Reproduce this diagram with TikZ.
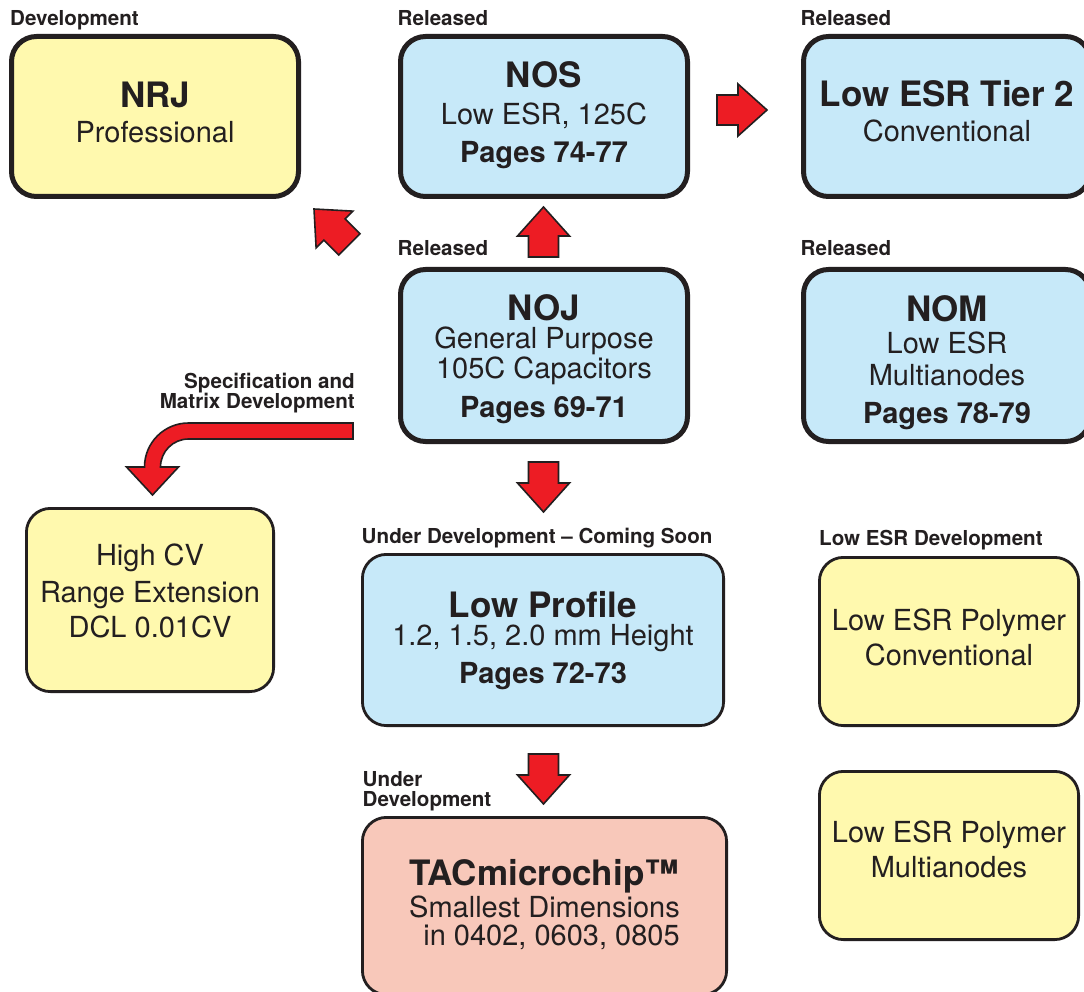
\documentclass[tikz,border=0pt]{standalone}
\usepackage{fontspec}
\setmainfont{TeX Gyre Heros}
\usetikzlibrary{calc,positioning}
\definecolor{ink}{RGB}{35,31,32}
\definecolor{relblue}{RGB}{199,233,249}
\definecolor{devyellow}{RGB}{255,249,174}
\definecolor{chippink}{RGB}{248,200,186}
\definecolor{arrred}{RGB}{237,28,36}
\newcommand{\boxtitle}[1]{{\fontsize{35}{34}\selectfont\bfseries #1}}
\newcommand{\boxpages}[1]{{\fontsize{29}{28}\selectfont\bfseries #1}}
\newcommand{\redarrow}[2]{%
  \begin{scope}[shift={(#1)},rotate=#2]
    \draw[blockarrow] (0,0) -- (-29,26) -- (-29,15) -- (-50,15) -- (-50,-15)
      -- (-29,-15) -- (-29,-26) -- cycle;
  \end{scope}}

\begin{document}
\begin{tikzpicture}[x=1pt,y=1pt,
    thickbox/.style={draw=ink,line width=5pt,rounded corners=25pt,align=center,
      inner sep=0pt,text depth=0pt,text=ink,font=\fontsize{29}{28}\selectfont,
      minimum width=287pt},
    thinbox/.style={draw=ink,line width=2.8pt,rounded corners=24pt,align=center,
      inner sep=0pt,text depth=0pt,text=ink,font=\fontsize{29}{28}\selectfont},
    lbl/.style={font=\fontsize{20.6}{20}\selectfont\bfseries,text=ink,inner sep=0pt,
      anchor=base west},
    blockarrow/.style={fill=arrred,draw=ink,line width=1.6pt,line join=miter}]

    \path[use as bounding box,fill=white] (0,0) rectangle (1084,-992);

    % released / development boxes, top rows
    \node[thickbox,fill=devyellow,minimum height=160pt,text height=53pt] (nrj) at (155,-116.5)
      {\boxtitle{NRJ}\\[7pt]Professional};
    \node[thickbox,fill=relblue,minimum height=160pt,text height=93pt] (nos) at (544,-116.5)
      {\boxtitle{NOS}\\[9pt]Low ESR, 125C\\[10pt]\boxpages{Pages 74-77}};
    \node[thickbox,fill=relblue,minimum height=160pt,text height=51pt] (tier) at (947,-116.5)
      {\boxtitle{Low ESR Tier 2}\\[7pt]Conventional};
    \node[thickbox,fill=relblue,minimum height=172pt,text height=123pt] (noj) at (544,-355.5)
      {\boxtitle{NOJ}\\General Purpose\\[2pt]105C Capacitors\\[11pt]\boxpages{Pages 69-71}};
    \node[thickbox,fill=relblue,minimum height=172pt,text height=135pt] (nom) at (947,-355.5)
      {\boxtitle{NOM}\\[4pt]Low ESR\\[4pt]Multianodes\\[10pt]\boxpages{Pages 78-79}};

    % lower boxes
    \node[thinbox,fill=devyellow,minimum width=247.2pt,minimum height=183.2pt,text height=74pt]
      (hcv) at (150,-600) {High CV\\[9pt]Range Extension\\[7pt]DCL 0.01CV};
    \node[thinbox,fill=relblue,minimum width=361.2pt,minimum height=171.2pt,text height=86pt]
      (lpr) at (543,-640) {\boxtitle{Low Profile}\\1.2, 1.5, 2.0 mm Height\\[10pt]\boxpages{Pages 72-73}};
    \node[thinbox,fill=chippink,minimum width=364.2pt,minimum height=177.2pt,text height=78pt]
      (tac) at (544.5,-906) {\boxtitle{TACmicrochip\texttrademark}\\[1pt]Smallest Dimensions\\
      \hspace*{14pt}in 0402, 0603, 0805};
    \node[thinbox,fill=devyellow,minimum width=259.2pt,minimum height=168.2pt,text height=47pt]
      (lec) at (949,-641.5) {Low ESR Polymer\\[7pt]Conventional};
    \node[thinbox,fill=devyellow,minimum width=259.2pt,minimum height=168.2pt,text height=43pt]
      (lem) at (949,-855.5) {Low ESR Polymer\\[7pt]Multianodes};

    % status labels
    \node[lbl] (l1) at (10,-26) {Development};
    \node[lbl] (l2) at (397.5,-26) {Released};
    \node[lbl] (l3) at (800.5,-26) {Released};
    \node[lbl] (l4) at (397.5,-256) {Released};
    \node[lbl] (l5) at (800.5,-256) {Released};
    \node[lbl] (l6) at (361.5,-543) {Under Development -- Coming Soon};
    \node[lbl] (l7) at (819,-545) {Low ESR Development};
    \node[lbl,anchor=south west,align=left,text depth=0pt] (l8) at (362.5,-806.7)
      {Under\\Development};
    \node[lbl,anchor=south east,align=right,text depth=0pt] (l9) at (355,-409)
      {Specification and\\Matrix Development};

    % arrows
    \coordinate (T1) at (767,-110);
    \coordinate (T2) at (543.5,-207);
    \coordinate (T3) at (314,-209);
    \coordinate (T4) at (543.5,-512);
    \coordinate (T5) at (543.5,-804);

    \redarrow{T1}{0}
    \redarrow{T2}{90}
    \redarrow{T3}{135}
    \redarrow{T4}{-90}
    \redarrow{T5}{-90}

    \draw[blockarrow] (353,-423) -- (188.5,-423) arc[start angle=90,end angle=180,radius=44]
      -- (126.5,-467) -- (152.5,-495) -- (178.5,-467) -- (160.5,-467)
      arc[start angle=180,end angle=90,radius=28] -- (353,-439) -- cycle;
  \end{tikzpicture}
\end{document}
